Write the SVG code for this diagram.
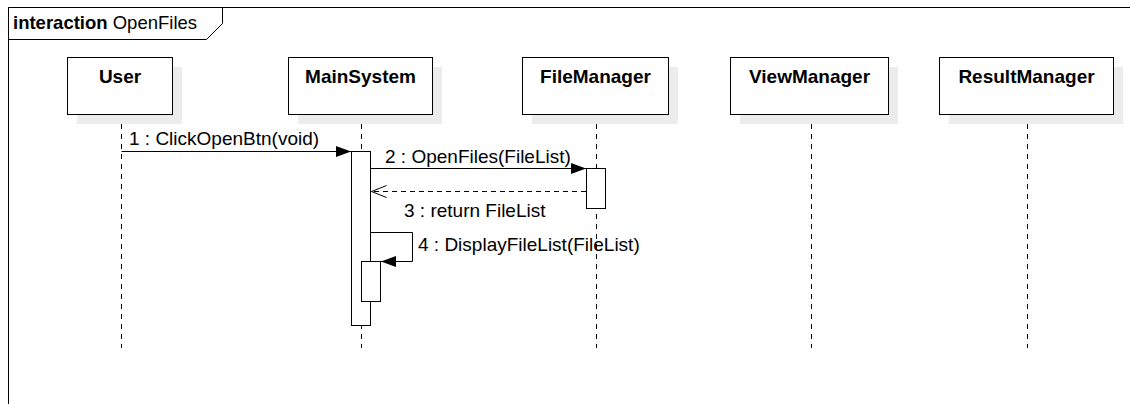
<svg xmlns="http://www.w3.org/2000/svg" width="1130" height="404" viewBox="0 0 1130 404">
<style>
text{font-family:"Liberation Sans",Arial,sans-serif;fill:#000}
.hdr{font-size:19px;font-weight:bold;text-anchor:middle}
.lbl{font-size:19px}
.box{fill:#fff;stroke:#000;stroke-width:1}
.shadow{fill:#ececec}
.life{stroke:#000;stroke-width:1;stroke-dasharray:5,5;fill:none}
.act{fill:#fff;stroke:#000;stroke-width:1}
.msg{stroke:#000;stroke-width:1;fill:none}
.ret{stroke:#000;stroke-width:1;fill:none;stroke-dasharray:5,4}
</style>
<defs>
<marker id="filled" markerUnits="userSpaceOnUse" markerWidth="16" markerHeight="12" refX="15" refY="5.5" orient="auto">
<path d="M0,0 L15,5.5 L0,11 z" fill="#000"/>
</marker>
<marker id="open" markerUnits="userSpaceOnUse" markerWidth="16" markerHeight="14" refX="15" refY="6.5" orient="auto">
<path d="M0,0.5 L15,6.5 L0,12.5" fill="none" stroke="#000" stroke-width="1"/>
</marker>
</defs>
<rect width="1130" height="404" fill="#fff"/>
<g id="frame">
<path d="M8.5,404 L8.5,7.5 L1130,7.5" fill="none" stroke="#000" stroke-width="1"/>
<path d="M8.5,7.5 L222.5,7.5 L222.5,23.5 L206.5,39.5 L8.5,39.5" fill="none" stroke="#000" stroke-width="1"/>
<text x="13" y="29" style="font-size:18.5px"><tspan font-weight="bold">interaction</tspan> OpenFiles</text>
</g>
<g id="lifelines">
<line class="life" x1="121.5" y1="114" x2="121.5" y2="348"/>
<line class="life" x1="361.5" y1="114" x2="361.5" y2="348"/>
<line class="life" x1="596.5" y1="114" x2="596.5" y2="348"/>
<line class="life" x1="811.5" y1="114" x2="811.5" y2="348"/>
<line class="life" x1="1027.5" y1="114" x2="1027.5" y2="348"/>
</g>
<g id="User">
<rect class="shadow" x="77" y="67" width="105" height="57"/>
<rect class="box" x="67.5" y="57.5" width="105" height="57"/>
<text class="hdr" x="120" y="83">User</text>
</g>
<g id="MainSystem">
<rect class="shadow" x="298" y="67" width="144" height="57"/>
<rect class="box" x="288.5" y="57.5" width="144" height="57"/>
<text class="hdr" x="360.5" y="83">MainSystem</text>
</g>
<g id="FileManager">
<rect class="shadow" x="532" y="67" width="146" height="57"/>
<rect class="box" x="522.5" y="57.5" width="146" height="57"/>
<text class="hdr" x="595.5" y="83">FileManager</text>
</g>
<g id="ViewManager">
<rect class="shadow" x="740" y="67" width="158" height="57"/>
<rect class="box" x="730.5" y="57.5" width="158" height="57"/>
<text class="hdr" x="809.5" y="83">ViewManager</text>
</g>
<g id="ResultManager">
<rect class="shadow" x="949" y="67" width="174" height="57"/>
<rect class="box" x="939.5" y="57.5" width="174" height="57"/>
<text class="hdr" x="1026.5" y="83">ResultManager</text>
</g>
<g id="activations">
<rect class="act" x="351.5" y="151.5" width="19" height="174"/>
<rect class="act" x="586.5" y="168.5" width="19" height="40"/>
<rect class="act" x="361.5" y="261.5" width="19" height="40"/>
</g>
<g id="connectors">
<line class="msg" x1="121.5" y1="151.5" x2="351" y2="151.5" marker-end="url(#filled)"/>
<line class="msg" x1="371" y1="168.5" x2="586" y2="168.5" marker-end="url(#filled)"/>
<line class="ret" x1="586" y1="191.5" x2="371.5" y2="191.5" marker-end="url(#open)"/>
<path class="msg" d="M371,232.5 L412.5,232.5 L412.5,261.5 L381,261.5" marker-end="url(#filled)"/>
</g>
<g id="labels">
<text class="lbl" x="129" y="145">1 : ClickOpenBtn(void)</text>
<text class="lbl" x="385" y="163">2 : OpenFiles(FileList)</text>
<text class="lbl" x="404" y="217">3 : return FileList</text>
<text class="lbl" x="418" y="251">4 : DisplayFileList(FileList)</text>
</g>
</svg>
